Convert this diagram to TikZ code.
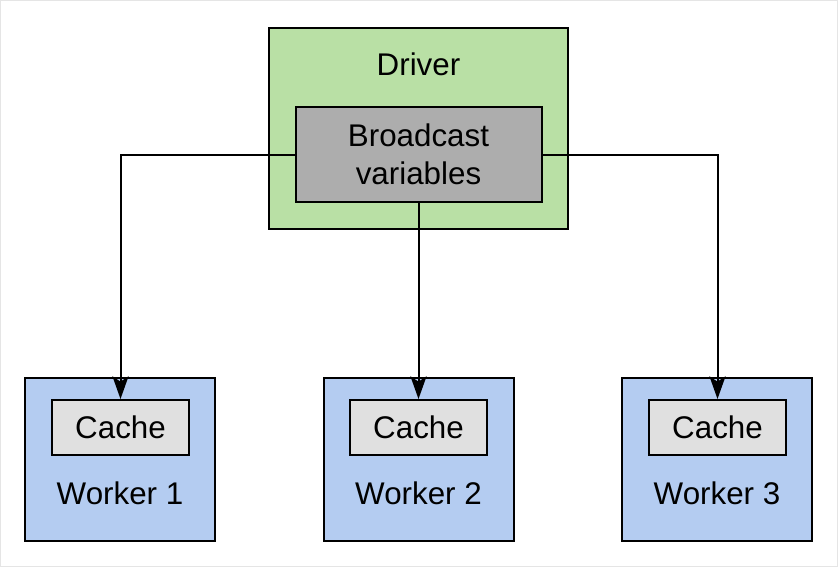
\documentclass[tikz,border=0pt]{standalone}
\usepackage{fontspec}
\setmainfont{Liberation Sans}
\usepackage{xcolor}
\usetikzlibrary{arrows.meta,positioning}

\definecolor{drvgreen}{HTML}{B9E0A5}
\definecolor{wrkblue}{HTML}{B4CCF1}
\definecolor{bcgray}{HTML}{ADADAD}
\definecolor{cachegray}{HTML}{E0E0E0}

\begin{document}
\begin{tikzpicture}[x=0.75pt, y=-0.75pt,
    box/.style={draw, rectangle, line width=1.5pt, inner sep=0pt},
    lbl/.style={font=\fontsize{23.5}{28.5}\selectfont, align=center, inner sep=0pt},
    conn/.style={line width=1.5pt, -{Stealth[length=17pt, width=12pt, inset=4pt]}}]
    \useasboundingbox (0,0) rectangle (838,567);
    \draw[gray!20, line width=0.75pt] (0.5,0.5) rectangle (837.5,566);

    % Driver
    \node[box, fill=drvgreen, minimum width=224.25pt, minimum height=150.75pt] (drv) at (418.5,128.5) {};
    \node[lbl] (drvlbl) at (418.5,64) {Driver};
    \node[box, fill=bcgray, minimum width=184.5pt, minimum height=71.25pt, lbl] (bcast) at (418.5,154.5) {Broadcast\\variables};

    % Workers
    \node[box, fill=wrkblue, minimum width=142.5pt, minimum height=122.25pt] (w1) at (120,459.5) {};
    \node[box, fill=wrkblue, minimum width=142.5pt, minimum height=122.25pt] (w2) at (418.5,459.5) {};
    \node[box, fill=wrkblue, minimum width=142.5pt, minimum height=122.25pt] (w3) at (717,459.5) {};

    \node[box, fill=cachegray, minimum width=102.75pt, minimum height=41.25pt, lbl] (c1) at (120.5,427.5) {Cache};
    \node[box, fill=cachegray, minimum width=102.75pt, minimum height=41.25pt, lbl] (c2) at (418.5,427.5) {Cache};
    \node[box, fill=cachegray, minimum width=102.75pt, minimum height=41.25pt, lbl] (c3) at (717.5,427.5) {Cache};

    \node[lbl] (w1lbl) at (120,493) {Worker 1};
    \node[lbl] (w2lbl) at (418.5,493) {Worker 2};
    \node[lbl] (w3lbl) at (717,493) {Worker 3};

    % Broadcast arrows
    \draw[conn] (bcast.west) -| (c1.north);
    \draw[conn] (bcast.south) -- (c2.north);
    \draw[conn] (bcast.east) -| (c3.north);
\end{tikzpicture}
\end{document}
